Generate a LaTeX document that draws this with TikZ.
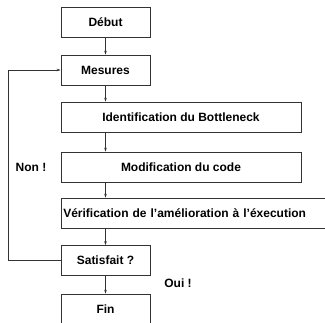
\documentclass[tikz,border=0pt]{standalone}
\usepackage{fontspec}
\setmainfont{Liberation Sans}
\usetikzlibrary{arrows.meta}

\tikzset{
    etape/.style = {draw = black!80, line width = 0.6pt, minimum height = 30pt,
        inner sep = 2pt, font = \bfseries\fontsize{12}{14}\selectfont},
    fleche/.style = {draw = black!80, line width = 0.6pt,
        -{Stealth[length = 4pt, width = 2.5pt]}},
    etiquette/.style = {font = \bfseries\fontsize{12}{14}\selectfont}
}

\begin{document}
\begin{tikzpicture}[x = 1pt, y = -1pt]
        \useasboundingbox (0,0) rectangle (325,323);
        % boxes of the loop
        \node[etape, minimum width = 89pt] (debut) at (105.5,22) {Début};
        \node[etape, minimum width = 89pt] (mesures) at (105.5,70) {Mesures};
        \node[etape, minimum width = 240pt] (ident) at (181,117) {Identification du Bottleneck};
        \node[etape, minimum width = 240pt] (modif) at (181,167) {Modification du code};
        \node[etape, anchor = west, text width = 276pt, align = left] (verif) at (61,213)
            {Vérification de l’amélioration à l’éxecution};
        \node[etape, minimum width = 89pt] (satisf) at (105.5,260.5) {Satisfait ?};
        \node[etape, minimum width = 89pt] (fin) at (105.5,309) {Fin};
        % labels
        \node[etiquette] (non) at (31,167) {Non !};
        \node[etiquette] (oui) at (178,283) {Oui !};
        % arrows down the column
        \draw[fleche] (debut) -- (mesures);
        \draw[fleche] (mesures) -- (mesures |- ident.north);
        \draw[fleche] (ident.south -| mesures) -- (mesures |- modif.north);
        \draw[fleche] (modif.south -| mesures) -- (mesures |- verif.north);
        \draw[fleche] (verif.south -| mesures) -- (satisf);
        \draw[fleche] (satisf) -- (fin);
        % back to the measures
        \coordinate (retour) at (8,260.5);
        \draw[fleche] (satisf.west) -- (retour) |- (mesures.west);
    \end{tikzpicture}
\end{document}
